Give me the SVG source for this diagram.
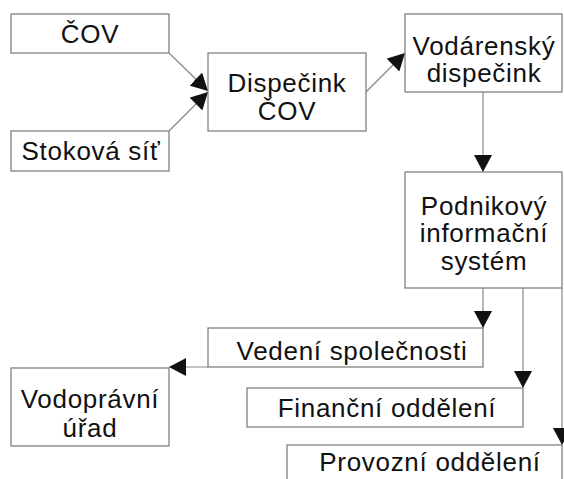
<svg xmlns="http://www.w3.org/2000/svg" width="564" height="479" viewBox="0 0 564 479">
<defs>
<style>
.box{fill:#fff;stroke:#777;stroke-width:1.2}
.t{font-family:"Liberation Sans",Arial,sans-serif;font-size:26px;letter-spacing:0.7px;fill:#111;text-anchor:middle}
.c{stroke:#888;stroke-width:1.2;fill:none;marker-end:url(#ah)}
</style>
<marker id="ah" markerUnits="userSpaceOnUse" markerWidth="18" markerHeight="18" refX="17" refY="9" orient="auto" viewBox="0 0 18 18">
<path d="M0,0 L17,9 L0,18 z" fill="#111"/>
</marker>
</defs>
<rect width="564" height="479" fill="#fff"/>
<g id="connectors">
<line class="c" x1="169" y1="53" x2="208" y2="91"/>
<line class="c" x1="169" y1="131" x2="208" y2="92"/>
<line class="c" x1="366" y1="92" x2="405" y2="53"/>
<line class="c" x1="483" y1="92" x2="483" y2="172"/>
<line class="c" x1="483" y1="288" x2="483" y2="328"/>
<line class="c" x1="523" y1="288" x2="523" y2="388"/>
<line class="c" x1="562" y1="288" x2="562" y2="445"/>
<line class="c" x1="208" y1="367" x2="169" y2="367"/>
</g>
<g id="cov"><rect class="box" x="11" y="14" width="158" height="39"/><text class="t" x="90" y="43">ČOV</text></g>
<g id="stokova"><rect class="box" x="11" y="131" width="158" height="40"/><text class="t" x="91" y="160">Stoková síť</text></g>
<g id="dispecink"><rect class="box" x="208" y="53" width="158" height="78"/><text class="t" x="287" y="92">Dispečink</text><text class="t" x="287" y="120">ČOV</text></g>
<g id="vodarensky"><rect class="box" x="405" y="14" width="157" height="78"/><text class="t" x="484" y="55">Vodárenský</text><text class="t" x="484" y="82">dispečink</text></g>
<g id="podnikovy"><rect class="box" x="405" y="172" width="157" height="116"/><text class="t" x="484" y="215">Podnikový</text><text class="t" x="484" y="242">informační</text><text class="t" x="484" y="270">systém</text></g>
<g id="vedeni"><rect class="box" x="208" y="328" width="275" height="39"/><text class="t" x="352" y="360">Vedení společnosti</text></g>
<g id="vodopravni"><rect class="box" x="11" y="368" width="158" height="78"/><text class="t" x="90" y="408">Vodoprávní</text><text class="t" x="90" y="437">úřad</text></g>
<g id="financni"><rect class="box" x="247" y="388" width="276" height="39"/><text class="t" x="387" y="417">Finanční oddělení</text></g>
<g id="provozni"><rect class="box" x="287" y="445" width="275" height="50"/><text class="t" x="430" y="471">Provozní oddělení</text></g>
</svg>
